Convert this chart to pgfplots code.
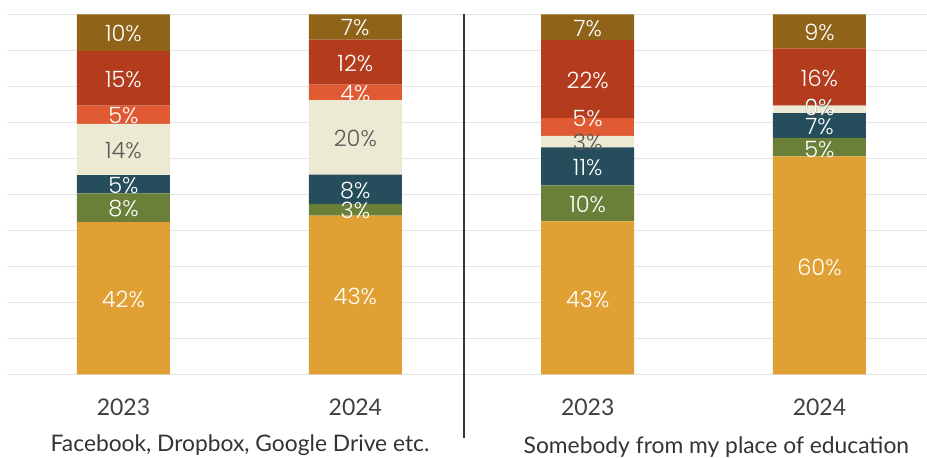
\documentclass[border=0pt]{standalone}
\usepackage{pgfplots}
\pgfplotsset{compat=1.18}
\usepackage{pgfplotstable}
\usepackage{fontspec}
\setmainfont{Lato}
\newfontfamily\barfont{Poppins Light}
\definecolor{cgold}{HTML}{E0A033}
\definecolor{cgreen}{HTML}{6A7F37}
\definecolor{cteal}{HTML}{264D5C}
\definecolor{ccream}{HTML}{EDEAD4}
\definecolor{corange}{HTML}{E05A33}
\definecolor{cred}{HTML}{B33B1E}
\definecolor{cbrown}{HTML}{8F6418}
\definecolor{cgrid}{HTML}{E4E4E4}
\definecolor{cyear}{HTML}{404040}
\definecolor{ccat}{HTML}{333333}
\definecolor{clabgray}{HTML}{595959}

% Panel A: Facebook, Dropbox, Google Drive etc.
\pgfplotstableread{
x gold green teal cream orange red brown
0 42.3 8.0 5.1 14.2 5.1 15.1 10.2
1 44.1 3.3 8.1 20.7 4.3 12.5 7.0
}\barsA
\pgfplotstableread{
x y lab
0 20.8 42
1 21.7 43
0 46.0 8
1 45.5 3
0 52.6 5
1 51.1 8
0 71.9 5
1 78.1 4
0 82.0 15
1 86.5 12
0 94.6 10
1 96.3 7
}\whiteA
\pgfplotstableread{
x y lab
0 62.2 14
1 65.6 20
}\grayA

% Panel B: Somebody from my place of education
\pgfplotstableread{
x gold green teal cream orange red brown
0 42.5 10.0 10.6 3.2 4.9 21.7 7.1
1 60.6 5.1 6.9 2.1 0.0 15.9 9.4
}\barsB
\pgfplotstableread{
x y lab
0 20.9 43
1 29.7 60
0 47.2 10
1 62.6 5
0 57.5 11
1 68.8 7
0 71.0 5
1 74.3 0
0 81.6 22
1 82.3 16
0 96.0 7
1 95.0 9
}\whiteB
\pgfplotstableread{
x y lab
0 64.6 3
1 73.9 0
}\grayB

\pgfplotsset{
  panel/.style={scale only axis, height=360pt, ymin=0, ymax=100,
    anchor=south west, clip=false},
  barpanel/.style={panel, ybar stacked, bar width=93pt,
    ytick={0,10,...,100}, ymajorgrids,
    grid style={color=cgrid, line width=1.6pt},
    yticklabels={}, xtick={0,1}, xticklabels={2023,2024},
    axis line style={draw=none}, major tick length=0pt,
    tick style={draw=none},
    xticklabel style={anchor=base, yshift=-41pt,
      font=\fontsize{23}{27}\selectfont, text=cyear},
    xlabel style={anchor=base, font=\fontsize{22.8}{27}\selectfont, text=ccat}},
  lblpanel/.style={panel, hide axis},
  lbl/.style={only marks, mark=*, mark size=0pt,
    mark options={draw=none, fill=none},
    nodes near coords={\pgfplotspointmeta\%},
    point meta=explicit symbolic,
    every node near coord/.style={anchor=center, inner sep=0pt,
      font=\barfont\fontsize{22.5}{26}\selectfont, text=#1}},
}

\begin{document}
\begin{tikzpicture}
\useasboundingbox (0,0) rectangle (927pt,458pt);

% ---------- Panel A ----------
\begin{axis}[barpanel, at={(7pt,83.5pt)}, width=456pt,
  xmin=-0.502, xmax=1.464,
  xlabel={Facebook, Dropbox, Google Drive etc.},
  xlabel style={at={(axis description cs:0.511,0)}, yshift=-77.5pt}]
\addplot[fill=cgold, draw=none] table[x=x, y=gold] {\barsA};
\addplot[fill=cgreen, draw=none] table[x=x, y=green] {\barsA};
\addplot[fill=cteal, draw=none] table[x=x, y=teal] {\barsA};
\addplot[fill=ccream, draw=none] table[x=x, y=cream] {\barsA};
\addplot[fill=corange, draw=none] table[x=x, y=orange] {\barsA};
\addplot[fill=cred, draw=none] table[x=x, y=red] {\barsA};
\addplot[fill=cbrown, draw=none] table[x=x, y=brown] {\barsA};
\end{axis}
\begin{axis}[lblpanel, at={(7pt,83.5pt)}, width=456pt,
  xmin=-0.502, xmax=1.464]
\addplot[lbl=clabgray] table[x=x, y=y, meta=lab] {\grayA};
\addplot[lbl=white] table[x=x, y=y, meta=lab] {\whiteA};
\end{axis}

% ---------- Panel B ----------
\begin{axis}[barpanel, at={(463pt,83.5pt)}, width=464pt,
  xmin=-0.538, xmax=1.464,
  xlabel={Somebody from my place of education},
  xlabel style={at={(axis description cs:0.546,0)}, yshift=-79pt}]
\addplot[fill=cgold, draw=none] table[x=x, y=gold] {\barsB};
\addplot[fill=cgreen, draw=none] table[x=x, y=green] {\barsB};
\addplot[fill=cteal, draw=none] table[x=x, y=teal] {\barsB};
\addplot[fill=ccream, draw=none] table[x=x, y=cream] {\barsB};
\addplot[fill=corange, draw=none] table[x=x, y=orange] {\barsB};
\addplot[fill=cred, draw=none] table[x=x, y=red] {\barsB};
\addplot[fill=cbrown, draw=none] table[x=x, y=brown] {\barsB};
\end{axis}
\begin{axis}[lblpanel, at={(463pt,83.5pt)}, width=464pt,
  xmin=-0.538, xmax=1.464]
\addplot[lbl=clabgray] table[x=x, y=y, meta=lab] {\grayB};
\addplot[lbl=white] table[x=x, y=y, meta=lab] {\whiteB};
\end{axis}

% separator between the two panels
\draw[line width=2pt, color=ccat] (463.5pt,444pt) -- (463.5pt,20pt);
\end{tikzpicture}
\end{document}
